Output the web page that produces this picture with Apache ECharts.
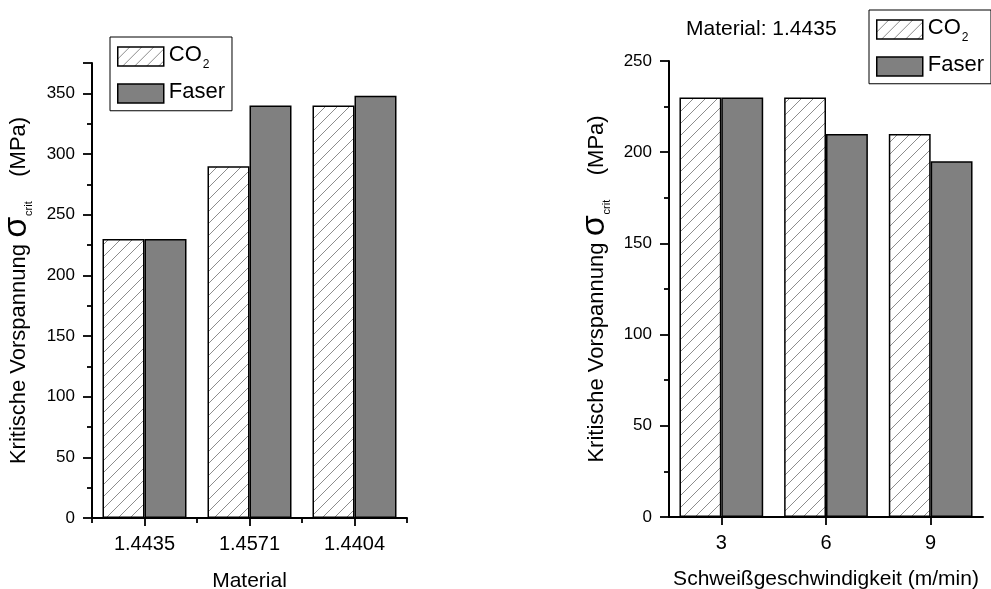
<!DOCTYPE html>
<html>
<head>
<meta charset="utf-8">
<script src="https://cdn.jsdelivr.net/npm/echarts@6/dist/echarts.min.js"></script>
<style>
html,body{margin:0;padding:0;background:#fff;}
#chart{width:991px;height:589px;}
</style>
</head>
<body>
<div id="chart"></div>
<script>
// ---- data ----
const materialCategories = ['1.4435', '1.4571', '1.4404'];
const materialCO2 = [230, 290, 340];
const materialFaser = [230, 340, 348];

const speedCategories = ['3', '6', '9'];
const speedCO2 = [230, 230, 210];
const speedFaser = [230, 210, 195];

const leftYMax = 375;
const rightYMax = 250;
const yInterval = 50;

const seriesNames = ['CO2', 'Faser'];
const panelTitle = 'Material: 1.4435';

// ---- styles ----
const FONT = '"Liberation Sans", Arial, sans-serif';

function hatchPattern() {
  const s = 12;
  const c = document.createElement('canvas');
  c.width = s; c.height = s;
  const g = c.getContext('2d');
  g.fillStyle = '#ffffff';
  g.fillRect(0, 0, s, s);
  g.strokeStyle = '#8c8c8c';
  g.lineWidth = 1;
  g.beginPath();
  g.moveTo(0, s); g.lineTo(s, 0);
  g.moveTo(-1, 1); g.lineTo(1, -1);
  g.moveTo(s - 1, s + 1); g.lineTo(s + 1, s - 1);
  g.stroke();
  return { image: c, repeat: 'repeat' };
}
const hatch = hatchPattern();

const yNameRich = {
  a: { fontSize: 22, fontFamily: FONT, color: '#000', lineHeight: 36, verticalAlign: 'bottom', padding: [0, 0, 6, 0] },
  s: { fontSize: 34, fontFamily: FONT, color: '#000', lineHeight: 36, verticalAlign: 'bottom', padding: [0, 1, 2, 0] },
  c: { fontSize: 11, fontFamily: FONT, color: '#000', lineHeight: 14, verticalAlign: 'bottom', padding: [0, 0, 2, 0] }
};
const yNameText = '{a|Kritische Vorspannung }{s|σ}{c|crit}{a|    (MPa)}';

const axisLineStyle = { color: '#000', width: 2 };
const tickStyle = { color: '#000', width: 1.8 };

function yAxisCfg(gridIndex, max, gap, margin) {
  return {
    type: 'value', gridIndex: gridIndex, min: 0, max: max, interval: yInterval,
    axisLine: { show: true, lineStyle: axisLineStyle },
    axisTick: { show: true, length: 9, lineStyle: tickStyle },
    minorTick: { show: true, splitNumber: 2, length: 5, lineStyle: tickStyle },
    splitLine: { show: false }, minorSplitLine: { show: false },
    axisLabel: {
      color: '#000', fontSize: 17, fontFamily: FONT, margin: margin,
      formatter: function (v) { return v > max - 1e-9 && max % yInterval !== 0 ? '' : String(v); }
    },
    name: yNameText, nameLocation: 'middle', nameGap: gap,
    nameTextStyle: { rich: yNameRich }
  };
}

function legendCfg(left, top) {
  return {
    orient: 'vertical', left: left, top: top,
    data: seriesNames.map(function (n) { return { name: n, icon: 'rect' }; }),
    icon: 'rect',
    itemWidth: 46, itemHeight: 19, itemGap: 10,
    padding: [7, 7, 7, 7],
    borderColor: '#000', borderWidth: 1,
    backgroundColor: '#fff',
    itemStyle: { borderColor: '#000', borderWidth: 1.5 },
    formatter: function (n) { return n === 'CO2' ? '{a|CO}{b|2}' : '{a|' + n + '}'; },
    textStyle: {
      rich: {
        a: { fontSize: 22, fontFamily: FONT, color: '#000', lineHeight: 19, verticalAlign: 'bottom' },
        b: { fontSize: 12, fontFamily: FONT, color: '#000', lineHeight: 12, verticalAlign: 'bottom', padding: [0, 0, -5, 1] }
      }
    }
  };
}

function barSeries(name, data, xi, yi) {
  return {
    type: 'bar', name: name, data: data, xAxisIndex: xi, yAxisIndex: yi,
    barGap: '0%', barCategoryGap: '20%',
    itemStyle: {
      color: name === 'CO2' ? hatch : '#808080',
      borderColor: '#000', borderWidth: 1.5
    },
    emphasis: { disabled: true },
    animation: false
  };
}

const chart = echarts.init(document.getElementById('chart'), null, { renderer: 'canvas' });
chart.setOption({
  backgroundColor: '#fff',
  animation: false,
  title: {
    text: panelTitle, left: 686, top: 19, padding: 0,
    textStyle: { fontSize: 21, fontWeight: 'normal', fontFamily: FONT, color: '#000' }
  },
  legend: [legendCfg(110, 37), legendCfg(869, 10)],
  grid: [
    { left: 92, top: 63, width: 315, height: 455, containLabel: false, outerBoundsMode: 'none' },
    { left: 669, top: 61, width: 314, height: 456, containLabel: false, outerBoundsMode: 'none' }
  ],
  xAxis: [
    {
      type: 'category', gridIndex: 0, data: materialCategories, position: 'bottom',
      axisLine: { show: true, onZero: false, lineStyle: axisLineStyle },
      axisTick: { show: true, length: 5, lineStyle: tickStyle },
      axisLabel: { show: false }, splitLine: { show: false }
    },
    {
      type: 'category', gridIndex: 0, data: materialCategories, position: 'bottom',
      axisLine: { show: false },
      axisTick: { show: true, alignWithLabel: true, length: 8, lineStyle: tickStyle },
      axisLabel: { color: '#000', fontSize: 20, fontFamily: FONT, margin: 16 },
      splitLine: { show: false },
      name: 'Material', nameLocation: 'middle', nameGap: 53,
      nameTextStyle: { fontSize: 21, fontFamily: FONT, color: '#000' }
    },
    {
      type: 'category', gridIndex: 1, data: speedCategories, position: 'bottom',
      axisLine: { show: true, onZero: false, lineStyle: axisLineStyle },
      axisTick: { show: true, alignWithLabel: true, length: 8, lineStyle: tickStyle },
      axisLabel: { color: '#000', fontSize: 20, fontFamily: FONT, margin: 16 },
      splitLine: { show: false },
      name: 'Schweißgeschwindigkeit (m/min)', nameLocation: 'middle', nameGap: 52,
      nameTextStyle: { fontSize: 21, fontFamily: FONT, color: '#000' }
    }
  ],
  yAxis: [
    yAxisCfg(0, leftYMax, 56, 17),
    yAxisCfg(1, rightYMax, 55, 17)
  ],
  series: [
    barSeries('CO2', materialCO2, 0, 0),
    barSeries('Faser', materialFaser, 0, 0),
    barSeries('CO2', speedCO2, 2, 1),
    barSeries('Faser', speedFaser, 2, 1)
  ]
});
</script>
</body>
</html>
